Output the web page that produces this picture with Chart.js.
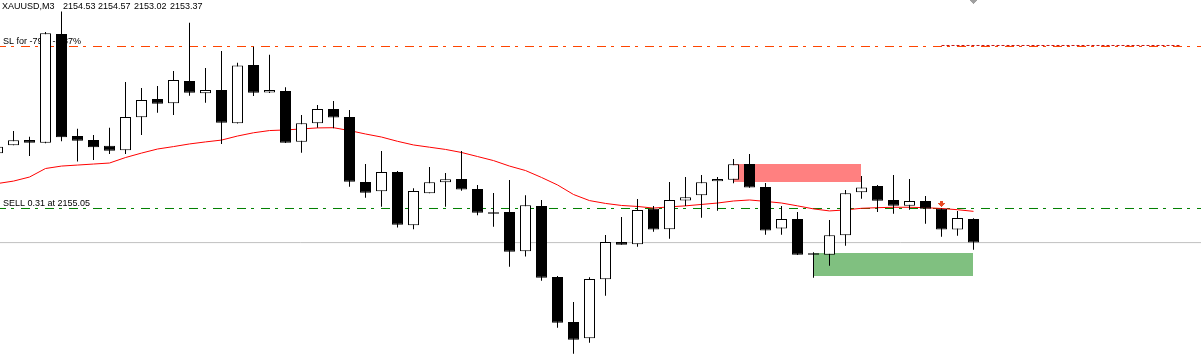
<!DOCTYPE html>
<html><head><meta charset="utf-8">
<script src="https://cdn.jsdelivr.net/npm/chart.js@4.4.1/dist/chart.umd.min.js"></script>
<style>html,body{margin:0;padding:0;background:#fff;overflow:hidden}canvas{display:block}</style>
</head><body>
<canvas id="c" width="1201" height="359"></canvas>
<script>
// ---- data (XAUUSD, M3) ----
const symbolLabel = 'XAUUSD,M3';
const headerValues = ['2154.53', '2154.57', '2153.02', '2153.37'];

const openP  = [2157.77,2158.16,2158.42,2158.29,2163.65,2158.62,2158.42,2158.14,2157.92,2159.54,
                2160.44,2160.23,2161.33,2160.73,2160.89,2159.25,2162.12,2160.77,2160.84,2158.34,
                2159.25,2159.95,2159.56,2156.36,2155.90,2156.85,2154.22,2155.80,2156.34,2156.50,
                2156.01,2154.86,2154.88,2152.94,2155.17,2151.68,2149.46,2148.66,2151.56,2153.40,
                2153.29,2155.04,2154.03,2155.45,2155.70,2156.39,2156.47,2157.24,2156.11,2154.06,
                2154.53,2152.84,2152.77,2153.73,2155.85,2156.16,2155.47,2155.19,2155.42,2155.04,
                2154.01,2154.53];
const highP  = [2158.09,2158.87,2158.59,2163.74,2164.76,2158.98,2158.67,2159.03,2161.28,2160.99,
                2161.08,2161.82,2164.20,2161.97,2162.81,2162.23,2163.02,2162.63,2161.02,2159.66,
                2160.15,2160.35,2159.90,2157.24,2157.88,2156.90,2156.05,2157.09,2156.80,2157.88,
                2156.21,2155.81,2156.45,2155.70,2155.47,2151.73,2150.44,2151.66,2153.74,2154.63,
                2155.52,2155.17,2156.36,2156.60,2156.70,2156.60,2157.49,2157.73,2156.31,2155.17,
                2154.88,2152.89,2154.48,2155.96,2156.65,2156.21,2156.70,2156.50,2155.67,2155.05,
                2154.93,2154.57];
const lowP   = [2157.77,2158.16,2157.64,2158.27,2158.36,2157.36,2157.44,2157.73,2157.73,2158.67,
                2159.77,2159.66,2160.61,2160.26,2158.23,2159.24,2160.59,2160.74,2158.28,2157.80,
                2159.03,2159.00,2156.12,2155.58,2155.14,2154.12,2154.03,2155.80,2155.14,2155.93,
                2154.72,2154.15,2152.18,2152.68,2151.49,2149.18,2147.90,2148.44,2150.75,2153.27,
                2153.17,2153.91,2153.56,2155.17,2154.60,2154.94,2156.29,2156.07,2153.76,2153.76,
                2152.76,2151.64,2152.23,2153.22,2155.53,2154.88,2154.79,2154.99,2154.30,2153.66,
                2153.71,2153.02];
const closeP = [2158.09,2158.41,2158.29,2163.68,2158.56,2158.39,2158.07,2157.90,2159.56,2160.40,
                2160.21,2161.38,2160.75,2160.89,2159.28,2162.10,2160.75,2160.89,2158.29,2159.25,
                2159.95,2159.53,2156.37,2155.83,2156.85,2154.25,2155.91,2156.34,2156.49,2155.98,
                2154.84,2154.79,2152.92,2155.21,2151.64,2149.42,2148.59,2151.58,2153.40,2153.27,
                2154.98,2154.01,2155.47,2155.60,2156.34,2156.50,2157.23,2156.08,2153.96,2154.53,
                2152.77,2152.77,2153.73,2155.80,2156.09,2155.43,2155.19,2155.42,2155.04,2154.01,
                2154.58,2153.37];
const maValues = [2156.28,2156.40,2156.60,2157.02,2157.14,2157.19,2157.24,2157.29,2157.56,2157.78,
                  2157.98,2158.10,2158.23,2158.33,2158.42,2158.62,2158.78,2158.89,2158.92,2158.97,
                  2159.02,2159.03,2158.89,2158.72,2158.57,2158.36,2158.18,2158.07,2157.96,2157.81,
                  2157.61,2157.41,2157.14,2156.92,2156.58,2156.21,2155.74,2155.44,2155.30,2155.20,
                  2155.15,2155.07,2155.13,2155.18,2155.25,2155.32,2155.42,2155.47,2155.40,2155.32,
                  2155.18,2155.03,2154.93,2154.98,2155.06,2155.09,2155.11,2155.11,2155.09,2155.05,
                  2154.99,2154.91];

const slLevel = 2163.03;
const slLabel = 'SL for -79.6 -3.87%';
const slTraceLevel = 2163.08;
const slTraceRange = [59, 73.9];
const sellLevel = 2155.05;
const sellLabel = 'SELL 0.31 at 2155.05';
const bidLevel = 2153.37;
const sellZone = [46.03, 53.97, 2156.36, 2157.24];   // x0, x1, low, high
const buyZone  = [50.97, 60.97, 2151.72, 2152.86];
const sellArrow = {x: 59, y: 2155.27};
const shiftMark = {x: 61, y: 2165.22};

const xMin = 0.15625, xMax = 75.21875;
const yMin = 2147.636, yMax = 2165.321;

// ---- build datasets ----
const idx = openP.map((_, i) => i);
const bodyData = idx.map(i => ({x: i, y: [Math.min(openP[i], closeP[i]), Math.max(openP[i], closeP[i])]}));
const wickData = idx.map(i => ({x: i, y: [lowP[i], highP[i]]}));
const bodyColors = idx.map(i => closeP[i] >= openP[i] ? '#ffffff' : '#000000');
const maData = idx.map(i => ({x: i, y: maValues[i]}));

function hLine(level, x0, x1) { return [{x: x0, y: level}, {x: x1, y: level}]; }

function makeShape(rows, color) {
  const c = document.createElement('canvas');
  c.width = 7; c.height = rows.length;
  const g = c.getContext('2d');
  g.fillStyle = color;
  rows.forEach((w, r) => g.fillRect((7 - w) / 2, r, w, 1));
  return c;
}
const arrowImg = makeShape([3, 3, 7, 5, 3, 1], '#e84a25');
const shiftImg = makeShape([7, 5, 3, 1], '#a0a0a0');

const dashDot = [9, 5, 3, 7];

const textPlugin = {
  id: 'mtText',
  beforeDatasetsDraw(chart) {
    const ctx = chart.ctx, ys = chart.scales.y;
    ctx.save();
    ctx.font = '9px "Liberation Sans", Arial, sans-serif';
    ctx.fillStyle = '#000';
    ctx.textBaseline = 'alphabetic';
    ctx.fillText(slLabel, 3, ys.getPixelForValue(slLevel) - 2.5);
    ctx.fillText(sellLabel, 3, ys.getPixelForValue(sellLevel) - 2.5);
    ctx.restore();
  },
  afterDatasetsDraw(chart) {
    const ctx = chart.ctx;
    ctx.save();
    ctx.font = '9px "Liberation Sans", Arial, sans-serif';
    ctx.fillStyle = '#000';
    ctx.textBaseline = 'alphabetic';
    ctx.fillText(symbolLabel, 2, 9);
    const xs = [63, 98, 134, 170];
    headerValues.forEach((t, k) => ctx.fillText(t, xs[k], 9));
    ctx.restore();
  }
};

new Chart(document.getElementById('c'), {
  type: 'bar',
  data: {
    datasets: [
      { type: 'bar', data: bodyData, backgroundColor: bodyColors, borderColor: '#000', borderWidth: 1,
        borderSkipped: false, barThickness: 11, grouped: false, inflateAmount: 0, order: 0 },
      { type: 'bar', data: wickData, backgroundColor: '#000', borderWidth: 0,
        barThickness: 1, grouped: false, inflateAmount: 0, order: 1 },
      { type: 'line', data: maData, borderColor: '#ff0000', borderWidth: 1, pointRadius: 0, tension: 0, order: 2 },
      { type: 'line', data: hLine(slLevel, xMin, xMax), borderColor: '#ff4500', borderWidth: 1,
        borderDash: dashDot, borderDashOffset: 3, pointRadius: 0, order: 3 },
      { type: 'line', data: hLine(slTraceLevel, slTraceRange[0], slTraceRange[1]), borderColor: '#c81414', borderWidth: 1,
        borderDash: [3, 2], pointRadius: 0, order: 3 },
      { type: 'line', data: hLine(sellLevel, xMin, xMax), borderColor: '#008000', borderWidth: 1,
        borderDash: dashDot, borderDashOffset: 3, pointRadius: 0, order: 3 },
      { type: 'line', data: hLine(bidLevel, xMin, xMax), borderColor: '#c0c0c0', borderWidth: 1,
        pointRadius: 0, order: 3 },
      { type: 'line', data: hLine(sellZone[3], sellZone[0], sellZone[1]), borderWidth: 0, pointRadius: 0,
        backgroundColor: '#ff8080', fill: {value: sellZone[2]}, order: 4 },
      { type: 'line', data: hLine(buyZone[3], buyZone[0], buyZone[1]), borderWidth: 0, pointRadius: 0,
        backgroundColor: '#80c080', fill: {value: buyZone[2]}, order: 4 },
      { type: 'scatter', data: [sellArrow], pointStyle: arrowImg, pointRadius: 3, order: -1 },
      { type: 'scatter', data: [shiftMark], pointStyle: shiftImg, pointRadius: 3, order: -1 }
    ]
  },
  options: {
    responsive: false,
    devicePixelRatio: 1,
    animation: false,
    events: [],
    layout: { padding: 0, autoPadding: false },
    plugins: { legend: { display: false }, tooltip: { enabled: false } },
    scales: {
      x: { type: 'linear', min: xMin, max: xMax, offset: false, display: false },
      y: { type: 'linear', min: yMin, max: yMax, beginAtZero: false, display: false }
    }
  },
  plugins: [textPlugin]
});
</script>
</body></html>
